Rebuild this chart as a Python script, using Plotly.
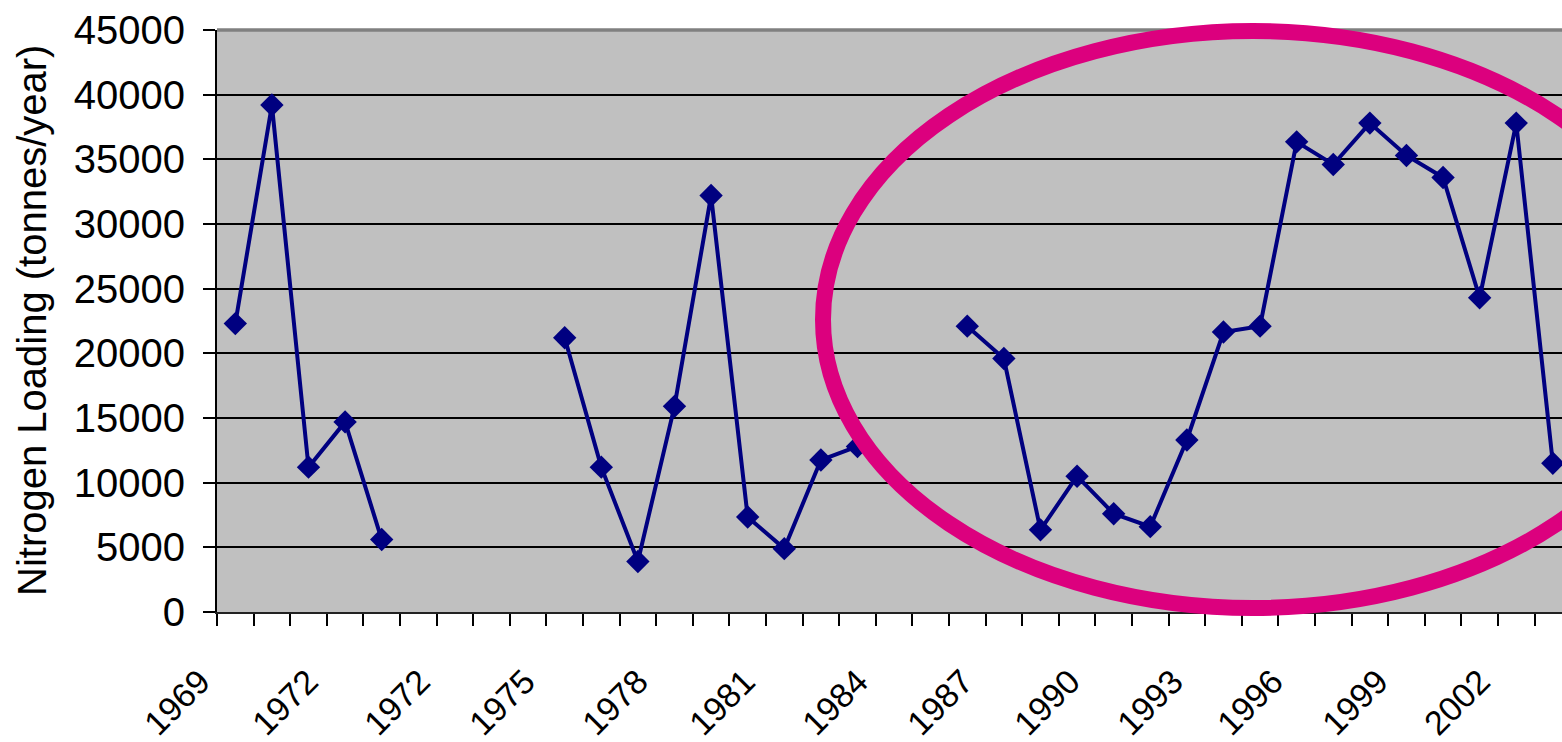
import plotly.graph_objects as go

# Category labels (as printed on the source chart)
years = ["1969", "1970", "1971", "1972", "1973", "1974",
         "1972", "1973", "1974", "1975", "1976", "1977", "1978", "1979",
         "1980", "1981", "1982", "1983", "1984", "1985", "1986", "1987",
         "1988", "1989", "1990", "1991", "1992", "1993", "1994", "1995",
         "1996", "1997", "1998", "1999", "2000", "2001", "2002"]

# Nitrogen loading (tonnes/year); None = no data
nitrogen = [22300, 39200, 11200, 14700, 5600,
            None, None, None, None,
            21200, 11200, 3900, 15900, 32200, 7350, 4900, 11750, 12800,
            None, None,
            22100, 19600, 6350, 10500, 7600, 6600, 13300, 21650, 22100,
            36350, 34600, 37800, 35300, 33600, 24300, 37800, 11500]

y_ticks = [0, 5000, 10000, 15000, 20000, 25000, 30000, 35000, 40000, 45000]

x_idx = list(range(len(years)))
label_idx = x_idx[::3]
label_txt = [years[i] for i in label_idx]

FONT = "Liberation Sans, Arial, sans-serif"

W, H = 1562, 742
L, T, B = 217, 30, 130
pw = W - L
ph = H - T - B
X_MIN, X_MAX = -0.5, 36.25
cat_px = pw / (X_MAX - X_MIN)


def px_x(p):
    return (p - L) / pw


def px_y(p):
    return (H - B - p) / ph


# Layout: where the reference places the right end of each rotated label (px).
label_end_px = [210, 318, 430, 535, 648, 755, 868, 973, 1080, 1183, 1283, 1388, 1490]
SHIFT = 20
label_pos = [(p - 10 + SHIFT - L) / cat_px + X_MIN for p in label_end_px]

fig = go.Figure()
fig.add_trace(go.Scatter(
    x=x_idx, y=nitrogen, mode="lines+markers", connectgaps=False,
    line=dict(color="#000080", width=4),
    marker=dict(symbol="diamond", size=18, color="#000080"),
    showlegend=False,
))

fig.update_layout(
    width=W, height=H,
    margin=dict(l=L, r=0, t=T, b=B, pad=0, autoexpand=False),
    paper_bgcolor="white", plot_bgcolor="#C0C0C0",
    font=dict(family=FONT, size=40, color="black"),
    xaxis=dict(
        range=[X_MIN, X_MAX], tickmode="array", tickvals=label_pos, ticktext=label_txt,
        tickangle=-45, ticks="", showgrid=False, zeroline=False, automargin=False,
        showline=True, linecolor="#222222", linewidth=2,
        tickfont=dict(family=FONT, size=34, color="black"),
        minor=dict(tickmode="linear", tick0=-0.5, dtick=1, ticks="outside",
                   ticklen=12, tickwidth=2, tickcolor="black", showgrid=False),
        ticklabelstandoff=34, ticklabelshift=-SHIFT,
    ),
    yaxis=dict(
        range=[0, 45000], tickmode="array", tickvals=y_ticks,
        ticktext=[str(v) for v in y_ticks], automargin=False,
        ticks="outside", ticklen=12, tickwidth=2, tickcolor="black",
        showgrid=True, gridcolor="black", gridwidth=1.5, zeroline=False,
        showline=True, linecolor="black", linewidth=2,
        tickfont=dict(family=FONT, size=40, color="black"),
        ticklabelstandoff=10,
    ),
    shapes=[
        dict(type="line", xref="paper", yref="paper", x0=0, x1=1, y0=1, y1=1,
             line=dict(color="#808080", width=3.5)),
        dict(type="circle", xref="paper", yref="paper",
             x0=px_x(823), x1=px_x(1683), y0=px_y(608), y1=px_y(31),
             line=dict(color="#DC007E", width=16)),
    ],
    annotations=[
        dict(text="Nitrogen Loading (tonnes/year)", xref="paper", yref="paper",
             x=px_x(32), y=0.5, xanchor="center", yanchor="middle",
             textangle=-90, showarrow=False,
             font=dict(family=FONT, size=40, color="black")),
    ],
)

fig.write_html(
    "out.html",
    config={"displayModeBar": False},
    post_script="document.body.style.margin='0';document.body.style.overflow='hidden';",
)
